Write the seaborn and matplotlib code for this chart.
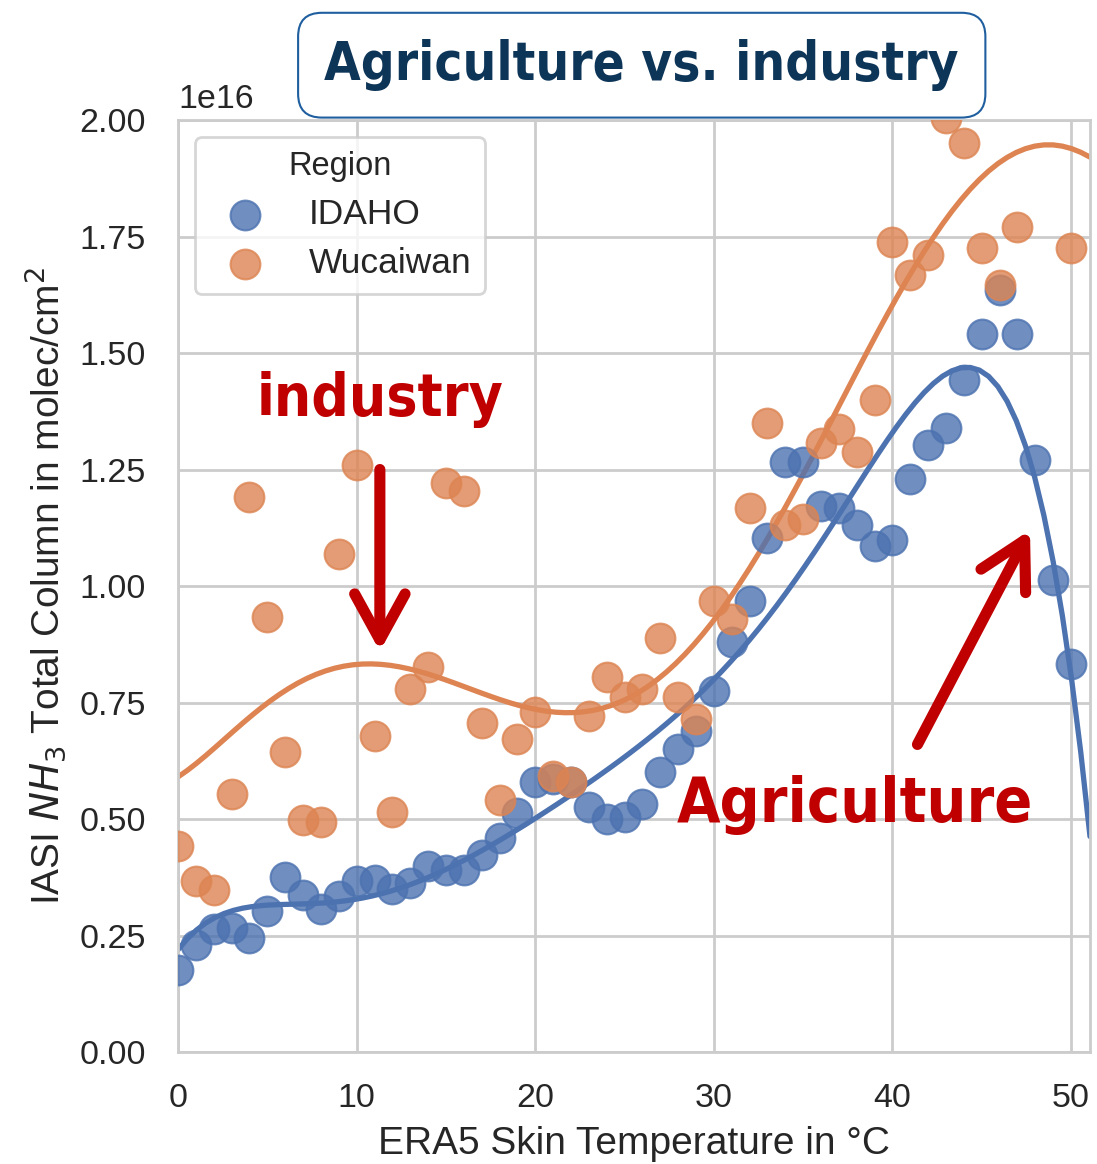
import numpy as np
import pandas as pd
import matplotlib
matplotlib.use("Agg")
import matplotlib.pyplot as plt
import seaborn as sns

# ---- data (values in 1e16 molec/cm^2) ----
temps = list(range(0, 51))
idaho_vals = [0.177, 0.229, 0.263, 0.266, 0.245, 0.302, 0.375, 0.338, 0.306, 0.334,
              0.366, 0.370, 0.349, 0.363, 0.399, 0.391, 0.391, 0.423, 0.459, 0.513,
              0.579, 0.585, 0.580, 0.525, 0.500, 0.504, 0.532, 0.600, 0.650, 0.689,
              0.775, 0.879, 0.968, 1.104, 1.266, 1.266, 1.172, 1.168, 1.131, 1.086,
              1.098, 1.230, 1.303, 1.340, 1.443, 1.541, 1.635, 1.541, 1.270, 1.012,
              0.832]
wucaiwan_temps = [t for t in temps if t not in (48, 49)]
wucaiwan_vals = [0.443, 0.366, 0.348, 0.553, 1.190, 0.934, 0.644, 0.498, 0.494, 1.069,
                 1.260, 0.679, 0.515, 0.780, 0.826, 1.221, 1.204, 0.705, 0.540, 0.671,
                 0.729, 0.593, 0.579, 0.721, 0.804, 0.761, 0.779, 0.889, 0.761, 0.714,
                 0.968, 0.929, 1.168, 1.350, 1.131, 1.143, 1.307, 1.336, 1.287, 1.400,
                 1.738, 1.668, 1.711, 2.004, 1.951, 1.725, 1.645, 1.770, 1.725]
regions = ["IDAHO", "Wucaiwan"]

# fitted trend curves at sample temperatures
idaho_fit_t = [0, 2, 5, 10, 15, 18, 20, 24, 27, 30, 34, 38, 42, 44, 46, 48, 49, 50, 51]
idaho_fit_v = [0.231, 0.270, 0.309, 0.352, 0.395, 0.441, 0.491, 0.600, 0.695, 0.816,
               0.988, 1.216, 1.401, 1.456, 1.434, 1.266, 1.020, 0.830, 0.470]
wuc_fit_t = [0, 2, 4, 6, 8, 10, 12, 14, 16, 18, 20, 22, 24, 26, 28, 30, 32, 34, 36,
             38, 40, 42, 44, 46, 48, 51]
wuc_fit_v = [0.591, 0.652, 0.716, 0.774, 0.813, 0.834, 0.831, 0.813, 0.784, 0.756,
             0.738, 0.731, 0.741, 0.757, 0.828, 0.930, 1.070, 1.180, 1.300, 1.455,
             1.594, 1.709, 1.860, 1.920, 1.934, 1.922]

points = pd.DataFrame({
    "temp": temps + wucaiwan_temps,
    "nh3": np.array(idaho_vals + wucaiwan_vals) * 1e16,
    "Region": [regions[0]] * len(temps) + [regions[1]] * len(wucaiwan_temps),
})
curves = pd.DataFrame({
    "temp": idaho_fit_t + wuc_fit_t,
    "nh3": np.array(idaho_fit_v + wuc_fit_v) * 1e16,
    "Region": [regions[0]] * len(idaho_fit_t) + [regions[1]] * len(wuc_fit_t),
})

sns.set_theme(style="whitegrid")
plt.rcParams["font.family"] = ["Liberation Sans", "DejaVu Sans"]
palette = sns.color_palette("deep")

fig = plt.figure(figsize=(10.97, 11.64), dpi=100)
ax = fig.add_axes([0.1623, 0.0962, 0.9936 - 0.1623, 0.8969 - 0.0962])
ax.set_xlim(0, 51.06)
ax.set_ylim(0, 2.0e16)

for i, reg in enumerate(regions):
    sns.regplot(data=curves[curves["Region"] == reg], x="temp", y="nh3", ax=ax,
                order=6, ci=None, truncate=False, scatter=False, color=palette[i],
                line_kws={"lw": 3.8, "zorder": 2})
for i, reg in enumerate(regions):
    sns.regplot(data=points[points["Region"] == reg], x="temp", y="nh3", ax=ax,
                fit_reg=False, color=palette[i], label=reg,
                scatter_kws={"s": 460, "alpha": 0.8, "linewidths": 1.5, "zorder": 3})

ax.set_xlim(0, 51.06)
ax.set_ylim(0, 2.0e16)
ax.set_xticks([0, 10, 20, 30, 40, 50])
ax.set_yticks(np.arange(0, 2.01, 0.25) * 1e16)
ax.yaxis.set_major_formatter(matplotlib.ticker.FuncFormatter(lambda v, p: f"{v/1e16:.2f}"))
ax.text(0.0, 1.005, "1e16", transform=ax.transAxes, fontsize=24.5, color=".15",
        ha="left", va="bottom")
ax.tick_params(axis="y", labelsize=24.5, colors=".15", pad=17)
ax.tick_params(axis="x", labelsize=24.5, colors=".15", pad=16)
ax.set_xlabel("ERA5 Skin Temperature in °C", fontsize=28, color=".15", labelpad=9)
ax.set_ylabel("IASI $NH_3$ Total Column in molec/cm$^2$", fontsize=28, color=".15", labelpad=8)
ax.grid(True, color="#cccccc", lw=2)
for s in ax.spines.values():
    s.set_color("#cccccc")
    s.set_linewidth(2)

leg = ax.legend(title="Region", loc="upper left", fontsize=25.5, title_fontsize=23.5,
                bbox_to_anchor=(0.019, 0.982), borderaxespad=0.0, markerscale=1.0,
                handletextpad=0.8, borderpad=0.4, labelspacing=0.45, frameon=True)
leg.get_frame().set_edgecolor("#cccccc")
leg.get_frame().set_linewidth(2)

title_font = dict(family="DejaVu Sans", weight="bold", stretch="condensed")
fig.text(0.585, 0.944, "Agriculture vs. industry", fontsize=38, color="#0d3558",
         ha="center", va="center", **title_font,
         bbox=dict(boxstyle="round,pad=0.5,rounding_size=0.45", fc="white",
                   ec="#1f5f9f", lw=1.5))

red = "#c00000"
ax.text(11.3, 1.40e16, "industry", fontsize=42, color=red, ha="center", va="center",
        **title_font)
ax.text(37.9, 0.53e16, "Agriculture", fontsize=45, color=red, ha="center", va="center",
        **title_font)
ax.annotate("", xy=(11.3, 0.86e16), xytext=(11.3, 1.25e16),
            arrowprops=dict(arrowstyle="->,head_length=1.0,head_width=0.55", lw=8,
                            color=red, mutation_scale=33, shrinkA=0, shrinkB=0))
ax.annotate("", xy=(47.7, 1.12e16), xytext=(41.4, 0.66e16),
            arrowprops=dict(arrowstyle="->,head_length=1.0,head_width=0.55", lw=8,
                            color=red, mutation_scale=33, shrinkA=0, shrinkB=0))

fig.savefig("out.png", dpi=100)
